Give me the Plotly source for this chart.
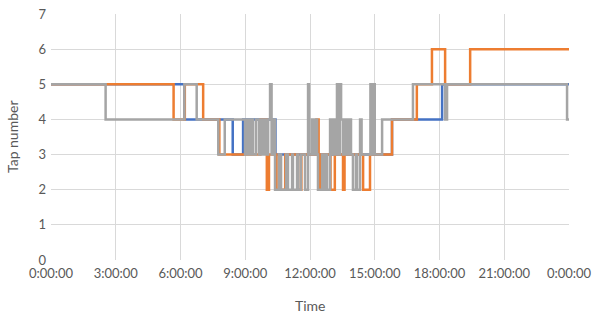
import plotly.graph_objects as go

# Time of change (hours since midnight) and tap number after the change
blue_t = [0, 6.18, 8.42, 8.90, 10.40, 15.80, 18.12, 24]
blue_v = [5, 4, 3, 4, 3, 4, 5, 5]

orange_t = [0, 5.68, 6.20, 7.05, 7.80, 9.70, 10.00, 10.10, 10.45, 10.85, 11.45, 11.60,
            12.30, 12.40, 12.50, 12.95, 13.15, 13.53, 13.60, 14.46, 14.78, 15.80,
            16.95, 17.65, 18.26, 19.42, 24]
orange_v = [5, 4, 5, 4, 3, 4, 2, 3, 2, 3, 2, 3,
            4, 2, 3, 2, 3, 2, 3, 2, 3, 4,
            5, 6, 5, 6, 6]

gray_t = [0, 2.53, 6.18, 6.75, 7.75, 8.05,
          8.99, 9.08, 9.18, 9.27, 9.36, 9.50, 9.64, 9.73, 9.82, 9.92, 9.96, 10.06,
          10.15, 10.22, 10.29, 10.38, 10.56, 10.66, 10.89, 10.98, 11.17, 11.21,
          11.40, 11.45, 11.58, 11.77, 11.91, 11.96, 12.09, 12.19, 12.28, 12.33,
          12.37, 12.56, 12.65, 12.74, 12.79, 12.93, 13.02, 13.11, 13.21, 13.25,
          13.30, 13.39, 13.44, 13.53, 13.62, 13.72, 13.81, 13.90, 13.99, 14.13,
          14.18, 14.32, 14.39, 14.80, 14.86, 14.92, 15.00, 15.34, 16.77, 18.26,
          18.35, 23.91, 24]
gray_v = [5, 4, 5, 4, 3, 4,
          3, 4, 3, 4, 3, 4, 3, 4, 3, 4, 3, 4,
          5, 3, 4, 2, 3, 2, 3, 2, 3, 2,
          3, 2, 3, 2, 5, 3, 4, 3, 4, 3,
          2, 3, 2, 3, 2, 4, 3, 4, 3, 5,
          3, 5, 4, 3, 4, 3, 4, 3, 2, 3,
          2, 4, 3, 5, 3, 5, 3, 4, 5, 4,
          5, 4, 4]

x_ticks = [0, 3, 6, 9, 12, 15, 18, 21, 24]
x_tick_labels = ["0:00:00", "3:00:00", "6:00:00", "9:00:00", "12:00:00",
                 "15:00:00", "18:00:00", "21:00:00", "0:00:00"]
y_ticks = [0, 1, 2, 3, 4, 5, 6, 7]

fig = go.Figure()
for t, v, c in [(blue_t, blue_v, "#4472C4"), (orange_t, orange_v, "#ED7D31"),
                (gray_t, gray_v, "#A5A5A5")]:
    fig.add_trace(go.Scatter(x=t, y=v, mode="lines", line=dict(color=c, width=2.5, shape="hv"),
                             showlegend=False, hoverinfo="skip"))

fam = "Lato, Carlito, sans-serif"
font = dict(family=fam, size=13, color="#595959")
title_font = dict(family=fam, size=14, color="#595959")
fig.update_layout(
    width=596, height=320,
    margin=dict(l=51, r=27, t=14, b=60, autoexpand=False),
    paper_bgcolor="white", plot_bgcolor="white",
    font=font,
    xaxis=dict(range=[0, 24], tickvals=x_ticks, ticktext=x_tick_labels,
               showgrid=True, gridcolor="#D9D9D9", gridwidth=1, zeroline=False,
               showline=False, ticks="", tickfont=font, automargin=False,
               ticklabelstandoff=4),
    yaxis=dict(range=[0, 7], tickvals=y_ticks,
               showgrid=True, gridcolor="#D9D9D9", gridwidth=1, zeroline=False,
               showline=False, ticks="", tickfont=font, automargin=False,
               ticklabelstandoff=4),
    annotations=[
        dict(text="Time", xref="paper", yref="paper", x=0.5, y=0, yshift=-45,
             xanchor="center", yanchor="middle", showarrow=False, font=title_font),
        dict(text="Tap number", xref="paper", yref="paper", x=0, xshift=-39, y=0.5,
             xanchor="center", yanchor="middle", showarrow=False, textangle=-90,
             font=title_font),
    ],
)
fig.write_html("out.html", config={"displayModeBar": False, "staticPlot": True},
               post_script="document.body.style.margin='0';document.body.style.overflow='hidden';")
